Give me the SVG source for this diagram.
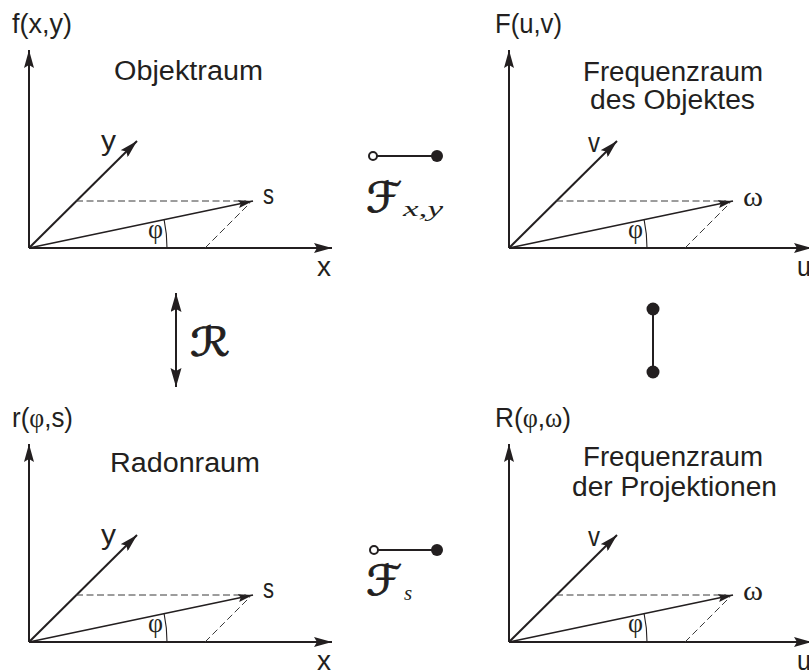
<svg xmlns="http://www.w3.org/2000/svg" xmlns:xlink="http://www.w3.org/1999/xlink" width="809" height="670" viewBox="0 0 809 670">
<style>
.t { font-family: "Liberation Sans", Arial, sans-serif; font-size: 27px; fill: #231f20; }
.l { font-family: "Liberation Sans", Arial, sans-serif; font-size: 27px; fill: #231f20; }
.g { font-family: "Liberation Serif", "DejaVu Serif", serif; font-size: 27px; fill: #231f20; }
.m { font-family: "DejaVu Serif", "DejaVu Sans", serif; font-style: italic; fill: #231f20; stroke: #231f20; stroke-width: 0.9; }
.mi { font-family: "Liberation Serif", serif; font-style: italic; fill: #231f20; }
.ax { stroke: #231f20; stroke-width: 2; fill: none; }
.vec { stroke: #231f20; stroke-width: 1.6; fill: none; }
.dash { stroke: #3a3a3a; stroke-width: 1; stroke-dasharray: 7 3.5; fill: none; }
.arc { stroke: #231f20; stroke-width: 1.1; fill: none; }
.con { stroke: #231f20; stroke-width: 2; fill: none; }
</style>
<defs>
<marker id="ah" markerUnits="userSpaceOnUse" markerWidth="19" markerHeight="10" refX="18" refY="5" orient="auto">
<path d="M0,0 L18,5 L0,10 L3,5 z" fill="#231f20"/>
</marker>
<marker id="ahs" markerUnits="userSpaceOnUse" markerWidth="16" markerHeight="8" refX="15" refY="4" orient="auto">
<path d="M0,0 L15,4 L0,8 L2.5,4 z" fill="#231f20"/>
</marker>
<marker id="ahb" markerUnits="userSpaceOnUse" markerWidth="20" markerHeight="12" refX="19" refY="5.5" orient="auto-start-reverse">
<path d="M0,0 L19,5.5 L0,11 L3,5.5 z" fill="#231f20"/>
</marker>
<g id="axes">
<line class="ax" x1="29" y1="248" x2="29" y2="50" marker-end="url(#ah)"/>
<line class="ax" x1="29" y1="248" x2="332" y2="248" marker-end="url(#ah)"/>
<line class="ax" x1="29" y1="248" x2="137" y2="141" marker-end="url(#ah)"/>
<line class="vec" x1="29" y1="248" x2="253" y2="201" marker-end="url(#ahs)"/>
<line class="dash" x1="76" y1="201" x2="246" y2="201"/>
<line class="dash" x1="205" y1="248" x2="250" y2="203"/>
<path class="arc" d="M167,248 A138,138 0 0 0 164.1,219.7"/>
</g>
</defs>

<g id="objektraum">
<use xlink:href="#axes"/>
<text class="t" x="12" y="33" textLength="60" lengthAdjust="spacingAndGlyphs">f(x,y)</text>
<text class="t" x="114" y="80" textLength="149" lengthAdjust="spacingAndGlyphs">Objektraum</text>
<text class="l" x="101" y="150" textLength="15" lengthAdjust="spacingAndGlyphs">y</text>
<text class="l" x="263" y="204" textLength="11" lengthAdjust="spacingAndGlyphs">s</text>
<text class="l" x="317" y="276" textLength="14" lengthAdjust="spacingAndGlyphs">x</text>
<text class="g" x="148" y="238" textLength="15" lengthAdjust="spacingAndGlyphs">φ</text>
</g>

<g id="frequenzraum-objekt" transform="translate(480,0)">
<use xlink:href="#axes"/>
<text class="t" x="15" y="33" textLength="67" lengthAdjust="spacingAndGlyphs">F(u,v)</text>
<text class="t" x="103" y="81" textLength="180" lengthAdjust="spacingAndGlyphs">Frequenzraum</text>
<text class="t" x="110" y="109" textLength="165" lengthAdjust="spacingAndGlyphs">des Objektes</text>
<text class="l" x="108" y="152" textLength="12" lengthAdjust="spacingAndGlyphs">v</text>
<text class="g" x="263" y="206" textLength="20" lengthAdjust="spacingAndGlyphs">ω</text>
<text class="l" x="317" y="276" textLength="14" lengthAdjust="spacingAndGlyphs">u</text>
<text class="g" x="148" y="238" textLength="15" lengthAdjust="spacingAndGlyphs">φ</text>
</g>

<g id="radonraum" transform="translate(0,394)">
<use xlink:href="#axes"/>
<text class="t" x="12" y="33" textLength="61" lengthAdjust="spacingAndGlyphs">r(<tspan class="g">φ</tspan>,s)</text>
<text class="t" x="110" y="78" textLength="150" lengthAdjust="spacingAndGlyphs">Radonraum</text>
<text class="l" x="101" y="150" textLength="15" lengthAdjust="spacingAndGlyphs">y</text>
<text class="l" x="263" y="204" textLength="11" lengthAdjust="spacingAndGlyphs">s</text>
<text class="l" x="317" y="276" textLength="14" lengthAdjust="spacingAndGlyphs">x</text>
<text class="g" x="148" y="238" textLength="15" lengthAdjust="spacingAndGlyphs">φ</text>
</g>

<g id="frequenzraum-projektionen" transform="translate(480,394)">
<use xlink:href="#axes"/>
<text class="t" x="15" y="33" textLength="76" lengthAdjust="spacingAndGlyphs">R(<tspan class="g">φ</tspan>,<tspan class="g">ω</tspan>)</text>
<text class="t" x="103" y="72" textLength="180" lengthAdjust="spacingAndGlyphs">Frequenzraum</text>
<text class="t" x="92" y="102" textLength="205" lengthAdjust="spacingAndGlyphs">der Projektionen</text>
<text class="l" x="108" y="152" textLength="12" lengthAdjust="spacingAndGlyphs">v</text>
<text class="g" x="263" y="206" textLength="20" lengthAdjust="spacingAndGlyphs">ω</text>
<text class="l" x="317" y="276" textLength="14" lengthAdjust="spacingAndGlyphs">u</text>
<text class="g" x="148" y="238" textLength="15" lengthAdjust="spacingAndGlyphs">φ</text>
</g>

<g id="connectors">
<g id="fxy">
<line class="con" x1="377" y1="156" x2="437" y2="156"/>
<circle cx="373" cy="156" r="4" fill="#fff" stroke="#231f20" stroke-width="2"/>
<circle cx="437" cy="156" r="6" fill="#231f20"/>
<text class="m" x="366" y="212" font-size="42" textLength="36" lengthAdjust="spacingAndGlyphs">ℱ</text>
<text class="mi" x="403" y="216" font-size="21" textLength="40" lengthAdjust="spacingAndGlyphs">x,y</text>
</g>
<g id="fs">
<line class="con" x1="378" y1="550" x2="437" y2="550"/>
<circle cx="374" cy="550" r="4" fill="#fff" stroke="#231f20" stroke-width="2"/>
<circle cx="437" cy="550" r="6" fill="#231f20"/>
<text class="m" x="366" y="595" font-size="42" textLength="36" lengthAdjust="spacingAndGlyphs">ℱ</text>
<text class="mi" x="404" y="600" font-size="21">s</text>
</g>
<g id="radon">
<line class="con" x1="176" y1="293" x2="176" y2="387" marker-start="url(#ahb)" marker-end="url(#ahb)"/>
<text class="m" x="190" y="356" font-size="40" textLength="40" lengthAdjust="spacingAndGlyphs">ℛ</text>
</g>
<g id="fourier-proj">
<line class="con" x1="653" y1="309" x2="653" y2="372"/>
<circle cx="653" cy="309" r="6.5" fill="#231f20"/>
<circle cx="653" cy="372" r="6.5" fill="#231f20"/>
</g>
</g>
</svg>
